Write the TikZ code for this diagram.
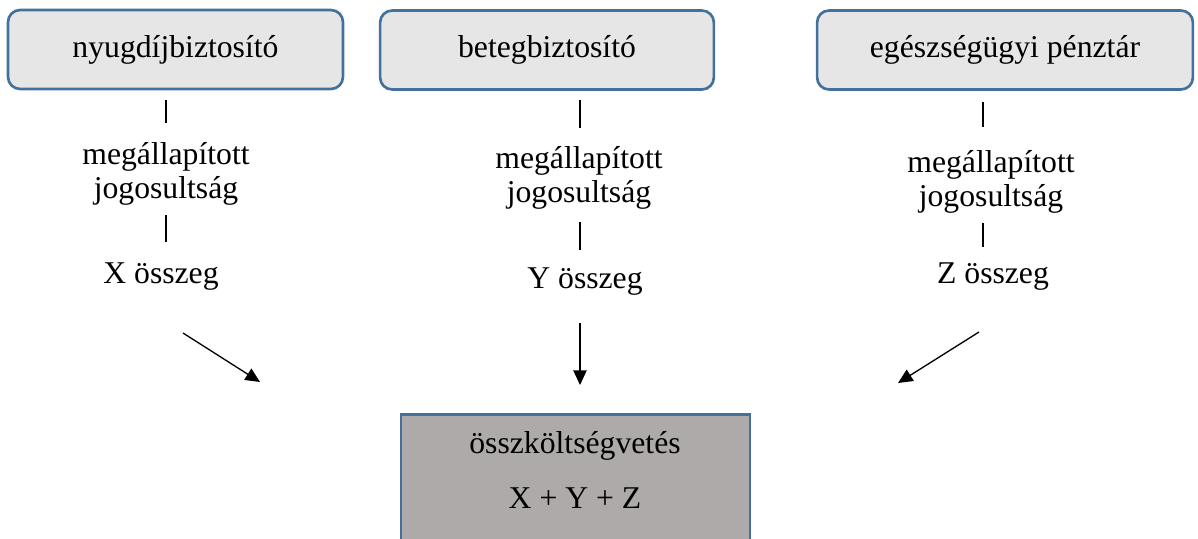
\documentclass[tikz,border=0pt]{standalone}
\usepackage{fontspec}
\setmainfont{Liberation Serif}
\usetikzlibrary{arrows.meta}
\usetikzlibrary{positioning}
\definecolor{boxblue}{HTML}{41719C}
\definecolor{boxgray}{HTML}{E7E6E6}
\definecolor{sumgray}{HTML}{AEAAAA}
\tikzset{
    >={Triangle[length=5.5pt,width=5pt]},
    fund/.style={draw=boxblue, fill=boxgray, line width=1pt, rounded corners=4.5pt,
        minimum height=1.05cm, inner sep=0pt},
    total/.style={draw=boxblue, fill=sumgray, line width=1pt,
        minimum width=4.64cm, minimum height=2.5cm, inner sep=0pt},
    txt/.style={font=\fontsize{12}{13}\selectfont, align=center, inner sep=0pt},
    link/.style={draw=black, line width=0.4pt},
    flow/.style={draw=black, line width=0.5pt, ->},
}
\begin{document}
\begin{tikzpicture}[x=0.0133cm, y=-0.0133cm]
\useasboundingbox (0,0) rectangle (1198,538);
\clip (0,0) rectangle (1198,538);
% felso dobozok
\node[fund, txt, minimum width=4.456cm] (nyugdij) at (175.5,49.5) {nyugdíjbiztosító};
\node[fund, txt, minimum width=4.44cm] (beteg) at (547,50) {betegbiztosító};
\node[fund, txt, minimum width=5.0cm] (penztar) at (1005,50) {egészségügyi pénztár};
% jogosultsag es osszegek
\node[txt] (jog1) at (166,174) {megállapított\\jogosultság};
\node[txt] (jog2) at (579,178) {megállapított\\jogosultság};
\node[txt] (jog3) at (991,182) {megállapított\\jogosultság};
\node[txt, anchor=base] (osszX) at (161,283) {X összeg};
\node[txt, anchor=base] (osszY) at (585,288) {Y összeg};
\node[txt, anchor=base] (osszZ) at (993,283) {Z összeg};
% also doboz
\node[total, anchor=north] (koltseg) at (575.5,413) {};
\node[txt, anchor=base] (koltsegnev) at (575,453) {összköltségvetés};
\node[txt, anchor=base] (koltsegsum) at (575,508) {X + Y + Z};
% vonalak
\coordinate (v1a) at (166,100); \coordinate (v1b) at (166,123);
\coordinate (v1c) at (166,215); \coordinate (v1d) at (166,242);
\coordinate (v2a) at (580,100); \coordinate (v2b) at (580,128);
\coordinate (v2c) at (580,222); \coordinate (v2d) at (580,250);
\coordinate (v3a) at (983,102); \coordinate (v3b) at (983,127);
\coordinate (v3c) at (983,223); \coordinate (v3d) at (983,247);
\draw[link] (v1a) -- (v1b);
\draw[link] (v1c) -- (v1d);
\draw[link] (v2a) -- (v2b);
\draw[link] (v2c) -- (v2d);
\draw[link] (v3a) -- (v3b);
\draw[link] (v3c) -- (v3d);
% nyilak
\coordinate (a1) at (183,333); \coordinate (a1end) at (260,382);
\coordinate (a2) at (580,323); \coordinate (a2end) at (580,385);
\coordinate (a3) at (979,332); \coordinate (a3end) at (898,383);
\draw[flow] (a1) -- (a1end);
\draw[flow] (a2) -- (a2end);
\draw[flow] (a3) -- (a3end);
\end{tikzpicture}
\end{document}
